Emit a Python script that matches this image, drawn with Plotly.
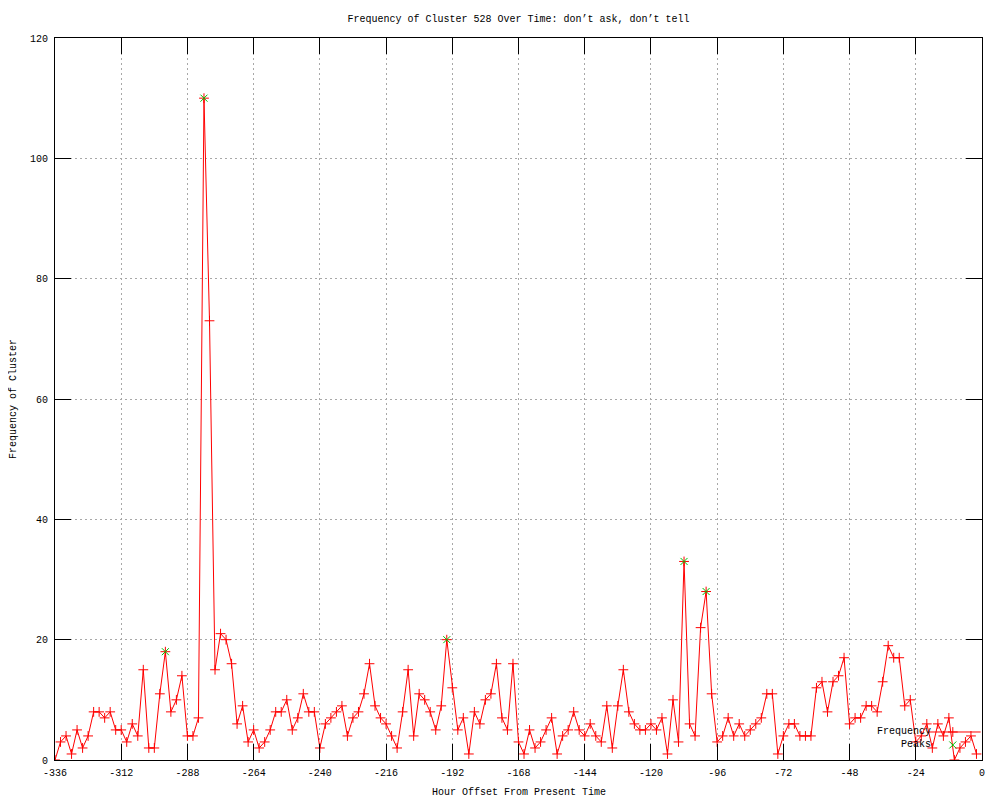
import plotly.graph_objects as go

# hour offsets (2-hour bins) and cluster frequency
hours = [
    -336, -334, -332, -330, -328, -326, -324, -322, -320, -318, -316, -314,
    -312, -310, -308, -306, -304, -302, -300, -298, -296, -294, -292, -290,
    -288, -286, -284, -282, -280, -278, -276, -274, -272, -270, -268, -266,
    -264, -262, -260, -258, -256, -254, -252, -250, -248, -246, -244, -242,
    -240, -238, -236, -234, -232, -230, -228, -226, -224, -222, -220, -218,
    -216, -214, -212, -210, -208, -206, -204, -202, -200, -198, -196, -194,
    -192, -190, -188, -186, -184, -182, -180, -178, -176, -174, -172, -170,
    -168, -166, -164, -162, -160, -158, -156, -154, -152, -150, -148, -146,
    -144, -142, -140, -138, -136, -134, -132, -130, -128, -126, -124, -122,
    -120, -118, -116, -114, -112, -110, -108, -106, -104, -102, -100, -98,
    -96, -94, -92, -90, -88, -86, -84, -82, -80, -78, -76, -74,
    -72, -70, -68, -66, -64, -62, -60, -58, -56, -54, -52, -50,
    -48, -46, -44, -42, -40, -38, -36, -34, -32, -30, -28, -26,
    -24, -22, -20, -18, -16, -14, -12, -10, -8, -6, -4, -2,
]
frequency = [
    0, 3, 4, 1, 5, 2, 4, 8, 8, 7, 8, 5,
    5, 3, 6, 4, 15, 2, 2, 11, 18, 8, 10, 14,
    4, 4, 7, 110, 73, 15, 21, 20, 16, 6, 9, 3,
    5, 2, 3, 5, 8, 8, 10, 5, 7, 11, 8, 8,
    2, 6, 7, 8, 9, 4, 7, 8, 11, 16, 9, 7,
    6, 4, 2, 8, 15, 4, 11, 10, 8, 5, 9, 20,
    12, 5, 7, 1, 8, 6, 10, 11, 16, 7, 5, 16,
    3, 1, 5, 2, 3, 5, 7, 1, 4, 5, 8, 5,
    4, 6, 4, 3, 9, 2, 9, 15, 8, 6, 5, 5,
    6, 5, 7, 1, 10, 3, 33, 6, 4, 22, 28, 11,
    3, 4, 7, 4, 6, 4, 5, 6, 7, 11, 11, 1,
    4, 6, 6, 4, 4, 4, 12, 13, 8, 13, 14, 17,
    6, 7, 7, 9, 9, 8, 13, 19, 17, 17, 9, 10,
    3, 4, 6, 2, 6, 4, 7, 0, 2, 3, 4, 1,
]
peak_hours = [-296, -282, -194, -108, -100]
peak_values = [18, 110, 20, 33, 28]

x_tick_vals = [-336, -312, -288, -264, -240, -216, -192, -168, -144, -120, -96, -72, -48, -24, 0]
x_tick_labels = [str(v) for v in x_tick_vals]
y_tick_vals = [0, 20, 40, 60, 80, 100, 120]

RED = "#ff0000"
GREEN = "#00c000"
FONT = "Liberation Mono"

fig = go.Figure()

fig.add_trace(go.Scatter(
    x=hours, y=frequency, mode="lines+markers",
    line=dict(color=RED, width=1),
    marker=dict(symbol="cross-thin", size=7, line=dict(color=RED, width=1)),
    showlegend=False, name="Frequency",
))
fig.add_trace(go.Scatter(
    x=peak_hours, y=peak_values, mode="markers",
    marker=dict(symbol="x-thin", size=7, line=dict(color=GREEN, width=1)),
    showlegend=False, name="Peaks",
))

# gnuplot-style key (text left of the sample), drawn on a hidden 0..1 overlay axis
fig.add_trace(go.Scatter(
    x=[0.941, 0.9685, 0.9985], y=[0.0388, 0.0388, 0.0388], mode="lines",
    line=dict(color=RED, width=1), xaxis="x2", yaxis="y2",
    showlegend=False, hoverinfo="skip",
))
fig.add_trace(go.Scatter(
    x=[0.9685], y=[0.0388], mode="markers",
    marker=dict(symbol="cross-thin", size=7, line=dict(color=RED, width=1)),
    xaxis="x2", yaxis="y2", showlegend=False, hoverinfo="skip",
))
fig.add_trace(go.Scatter(
    x=[0.9685], y=[0.0208], mode="markers",
    marker=dict(symbol="x-thin", size=7, line=dict(color=GREEN, width=1)),
    xaxis="x2", yaxis="y2", showlegend=False, hoverinfo="skip",
))

axis_common = dict(
    showline=True, linecolor="black", linewidth=1, mirror="allticks",
    ticks="inside", ticklen=16, tickcolor="black", tickwidth=1,
    showgrid=True, gridcolor="#a8a8a8", griddash="2px,3px", gridwidth=1,
    zeroline=False,
    tickfont=dict(family=FONT, size=10, color="black"),
)

# the page body has an 8px margin, so the figure is sized and padded for it
fig.update_layout(
    width=992, height=792,
    margin=dict(l=47, r=18, t=30, b=40),
    paper_bgcolor="white", plot_bgcolor="white",
    font=dict(family=FONT, size=10, color="black"),
    title=dict(
        text="Frequency of Cluster 528 Over Time: don\u2019t ask, don\u2019t tell",
        x=0.5, xref="paper", xanchor="center",
        y=1 - 10 / 792, yref="container", yanchor="middle",
        font=dict(family=FONT, size=10, color="black"),
    ),
    xaxis=dict(range=[-336, 0], tickvals=x_tick_vals, ticktext=x_tick_labels,
               ticklabelstandoff=3, **axis_common),
    yaxis=dict(range=[0, 120], tickvals=y_tick_vals, ticklabelstandoff=4, **axis_common),
    xaxis2=dict(overlaying="x", range=[0, 1], visible=False),
    yaxis2=dict(overlaying="y", range=[0, 1], visible=False),
    annotations=[
        dict(text="Hour Offset From Present Time", xref="paper", yref="paper",
             x=0.5, y=-32 / 722, xanchor="center", yanchor="middle", showarrow=False),
        dict(text="Frequency of Cluster", xref="paper", yref="paper", textangle=-90,
             x=-42 / 927, y=0.5, xanchor="center", yanchor="middle", showarrow=False),
        dict(text="Frequency", xref="paper", yref="paper",
             x=0.947, y=0.0388, xanchor="right", yanchor="middle", showarrow=False),
        dict(text="Peaks", xref="paper", yref="paper",
             x=0.947, y=0.0208, xanchor="right", yanchor="middle", showarrow=False),
    ],
)

fig.write_html("out.html")
